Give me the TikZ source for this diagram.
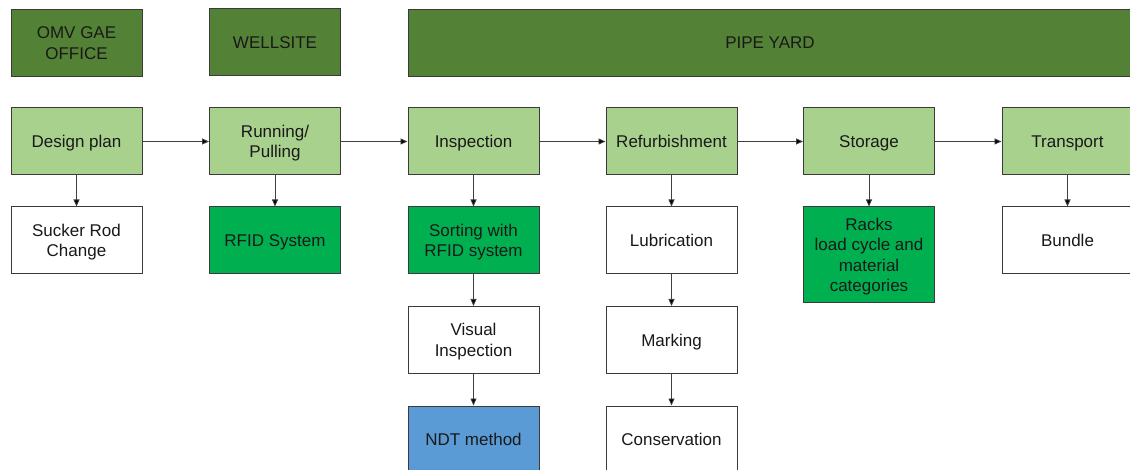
\documentclass[tikz,border=0pt]{standalone}
\usepackage{fontspec}
\setmainfont{Liberation Sans}
\usetikzlibrary{arrows.meta}
\definecolor{darkgr}{HTML}{538135}
\definecolor{lightgr}{HTML}{A9D18E}
\definecolor{brightgr}{HTML}{00B050}
\definecolor{bluebox}{HTML}{5B9BD5}
\definecolor{edge}{HTML}{3A3A3A}
\tikzset{
  box/.style={draw=edge, line width=1pt, minimum width=131pt, minimum height=67pt,
    inner sep=0pt, align=center, text=black!90, text depth=-1.2pt,
    font=\fontsize{17}{20.5}\selectfont},
  head/.style={box, fill=darkgr},
  stage/.style={box, fill=lightgr},
  plain/.style={box, fill=white},
  rfid/.style={box, fill=brightgr},
  ndt/.style={box, fill=bluebox},
  conn/.style={draw=black!75, line width=0.8pt, -{Triangle[length=7pt,width=6pt,fill=black]}}
}
\begin{document}
\begin{tikzpicture}[x=1pt,y=-1pt]
\useasboundingbox (0,0) rectangle (1130,470);
\clip (0,0) rectangle (1130,470);
\fill[white] (0,0) rectangle (1130,470);
% headers
\node[head] (omv) at (76.5,43) {OMV GAE\\OFFICE};
\node[head] (well) at (275,42.5) {WELLSITE};
\node[head, minimum width=724pt] (yard) at (770,43) {PIPE YARD};
% stages
\node[stage] (design) at (76.5,141.5) {Design plan};
\node[stage] (run) at (275,141.5) {Running/\\Pulling};
\node[stage] (insp) at (473.5,141.5) {Inspection};
\node[stage] (refurb) at (671.5,141.5) {Refurbishment};
\node[stage] (stor) at (869,141.5) {Storage};
\node[stage] (trans) at (1067.5,141.5) {Transport};
% row 3
\node[plain] (sucker) at (76.5,240.5) {Sucker Rod\\Change};
\node[rfid] (rfidsys) at (275,240.5) {RFID System};
\node[rfid] (sort) at (473.5,240.5) {Sorting with\\RFID system};
\node[plain] (lub) at (671.5,240.5) {Lubrication};
\node[rfid, minimum height=96pt] (racks) at (869,255) {Racks\\load cycle and\\material\\categories};
\node[plain] (bundle) at (1067.5,240.5) {Bundle};
% row 4
\node[plain] (visual) at (473.5,340) {Visual\\Inspection};
\node[plain] (mark) at (671.5,340) {Marking};
% row 5
\node[ndt] (ndtm) at (473.5,439.5) {NDT method};
\node[plain] (cons) at (671.5,439.5) {Conservation};
% connectors
\draw[conn] (design) -- (run);
\draw[conn] (run) -- (insp);
\draw[conn] (insp) -- (refurb);
\draw[conn] (refurb) -- (stor);
\draw[conn] (stor) -- (trans);
\draw[conn] (design) -- (sucker);
\draw[conn] (run) -- (rfidsys);
\draw[conn] (insp) -- (sort);
\draw[conn] (sort) -- (visual);
\draw[conn] (visual) -- (ndtm);
\draw[conn] (refurb) -- (lub);
\draw[conn] (lub) -- (mark);
\draw[conn] (mark) -- (cons);
\draw[conn] (stor) -- (racks);
\draw[conn] (trans) -- (bundle);
\end{tikzpicture}
\end{document}
